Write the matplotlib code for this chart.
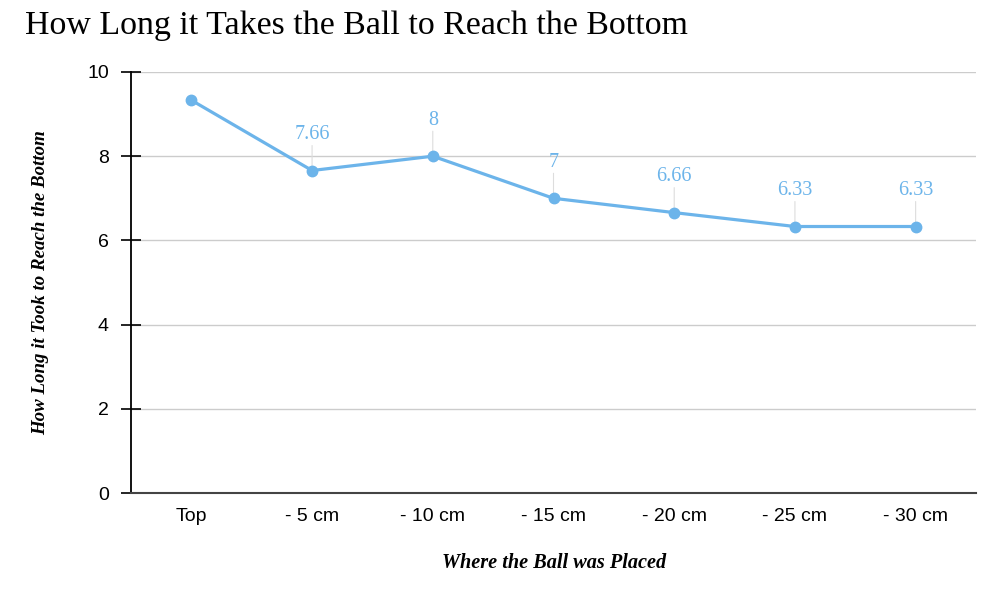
import matplotlib
matplotlib.use("Agg")
import matplotlib.pyplot as plt

categories = ["Top", "- 5 cm", "- 10 cm", "- 15 cm", "- 20 cm", "- 25 cm", "- 30 cm"]
values = [9.33, 7.66, 8, 7, 6.66, 6.33, 6.33]
labels = ["", "7.66", "8", "7", "6.66", "6.33", "6.33"]
yticks = [0, 2, 4, 6, 8, 10]

color = "#6cb4ea"
serif = ["Liberation Serif", "DejaVu Serif"]
sans = ["Liberation Sans", "DejaVu Sans"]

fig = plt.figure(figsize=(10, 5.94), dpi=100)
ax = fig.add_axes([0.131, 0.170, 0.845, 0.7088])

x = list(range(len(categories)))
ax.set_xlim(-0.5, len(categories) - 0.5)
ax.set_ylim(0, 10)
ax.set_yticks(yticks)
ax.set_yticklabels([str(t) for t in yticks], family=sans, fontsize=14)
ax.set_xticks(x)
ax.set_xticklabels(categories, family=sans, fontsize=14)
ax.tick_params(axis="x", length=0, pad=10.5)
ax.tick_params(axis="y", length=14, width=1.2, color="black", pad=9, direction="inout")
ax.grid(axis="y", color="#cccccc", linewidth=1)
ax.set_axisbelow(True)
for s in ["top", "right"]:
    ax.spines[s].set_visible(False)
ax.spines["left"].set_color("black")
ax.spines["left"].set_linewidth(1.3)
ax.spines["bottom"].set_color("#444444")
ax.spines["bottom"].set_linewidth(1.5)

ax.plot(x, values, color=color, linewidth=2.3, marker="o", markersize=7.5, zorder=3)

for xi, v, lab in zip(x, values, labels):
    if not lab:
        continue
    ax.annotate("", xy=(xi, v), xytext=(0, 18), textcoords="offset points",
                xycoords="data",
                arrowprops=dict(arrowstyle="-", color="#dddddd", lw=0.8, shrinkA=0, shrinkB=0),
                zorder=2)
    ax.annotate(lab, xy=(xi, v), xytext=(0, 19), textcoords="offset points",
                ha="center", va="bottom", color=color, fontsize=14.5, family=serif)

fig.text(0.025, 0.957, "How Long it Takes the Ball to Reach the Bottom", family=serif,
         fontsize=24.4, ha="left", va="center")
ax.set_ylabel("How Long it Took to Reach the Bottom", family=serif, fontsize=13.6,
              fontweight="bold", fontstyle="italic")
ax.yaxis.set_label_coords(-0.097, 0.5)
fig.text(0.554, 0.052, "Where the Ball was Placed", family=serif, fontsize=14.6,
         fontweight="bold", fontstyle="italic", ha="center", va="center")

fig.savefig("out.png", dpi=100)
